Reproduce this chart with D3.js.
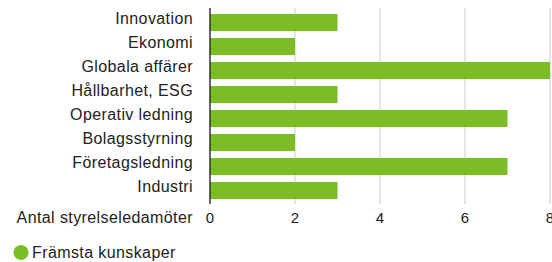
<!DOCTYPE html>
<html lang="sv">
<head>
<meta charset="utf-8">
<title>Främsta kunskaper</title>
<script src="https://cdn.jsdelivr.net/npm/d3@7"></script>
<style>
  body { margin: 0; background: #fff; }
  text { font-family: "Liberation Sans", Arial, Helvetica, sans-serif; fill: #222; }
  .lbl { font-size: 16px; letter-spacing: 0.4px; }
</style>
</head>
<body>
<div id="chart"></div>
<script>
const categories = ["Innovation", "Ekonomi", "Globala affärer", "Hållbarhet, ESG",
                    "Operativ ledning", "Bolagsstyrning", "Företagsledning", "Industri"];
const values = [3, 2, 8, 3, 7, 2, 7, 3];
const xTicks = [0, 2, 4, 6, 8];
const axisTitle = "Antal styrelseledamöter";
const seriesName = "Främsta kunskaper";

const width = 552, height = 262;
const green = "#7abd24";

const svg = d3.select("#chart").append("svg")
    .attr("width", width)
    .attr("height", height);

const x = d3.scaleLinear().domain([0, 8]).range([210, 550]);
const y = d3.scaleBand().domain(categories).range([10.5, 202.5])
    .paddingInner(0.29).paddingOuter(0.145);

// grid lines
svg.append("g")
  .selectAll("line")
  .data(xTicks.filter(d => d > 0))
  .join("line")
    .attr("x1", d => x(d)).attr("x2", d => x(d))
    .attr("y1", 8).attr("y2", 204)
    .attr("stroke", "#dcdcdc")
    .attr("stroke-width", 1.5);

// bars
svg.append("g")
  .selectAll("rect")
  .data(categories)
  .join("rect")
    .attr("x", x(0))
    .attr("y", d => y(d))
    .attr("width", (d, i) => x(values[i]) - x(0))
    .attr("height", y.bandwidth())
    .attr("fill", green);

// axis line
svg.append("line")
    .attr("x1", x(0)).attr("x2", x(0))
    .attr("y1", 8).attr("y2", 204)
    .attr("stroke", "#333")
    .attr("stroke-width", 1.5);

// category labels
svg.append("g")
  .selectAll("text")
  .data(categories)
  .join("text")
    .attr("class", "lbl")
    .attr("x", 193)
    .attr("y", d => y(d) + y.bandwidth() / 2 + 1.5)
    .attr("text-anchor", "end")
    .text(d => d);

// x tick labels
svg.append("g")
  .selectAll("text")
  .data(xTicks)
  .join("text")
    .attr("x", d => x(d))
    .attr("y", 223)
    .attr("text-anchor", "middle")
    .style("font-size", "15px")
    .text(d => d);

svg.append("text")
    .attr("class", "lbl")
    .attr("x", 193)
    .attr("y", 223)
    .attr("text-anchor", "end")
    .text(axisTitle);

// legend
svg.append("circle")
    .attr("cx", 21).attr("cy", 252.5).attr("r", 7.5)
    .attr("fill", green);
svg.append("text")
    .attr("class", "lbl")
    .attr("x", 32)
    .attr("y", 258)
    .text(seriesName);
</script>
</body>
</html>
